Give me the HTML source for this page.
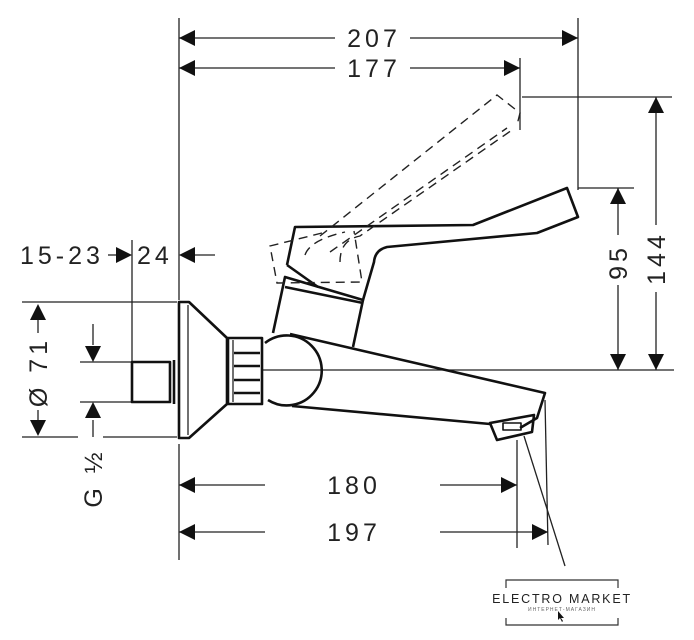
<!DOCTYPE html>
<html><head><meta charset="utf-8"><style>
html,body{margin:0;padding:0;background:#fff}
svg{display:block}
text{font-family:"Liberation Sans",sans-serif;fill:#222}
</style></head><body>
<svg width="694" height="640" viewBox="0 0 694 640" xmlns="http://www.w3.org/2000/svg">
<g stroke="#222" stroke-width="1.3" fill="none">
<line x1="179" y1="18" x2="179" y2="300"/>
<line x1="179" y1="444" x2="179" y2="560"/>
<line x1="578" y1="18" x2="578" y2="190"/>
<line x1="520" y1="58" x2="520" y2="130"/>
<line x1="522" y1="97" x2="672" y2="97"/>
<line x1="578" y1="188" x2="634" y2="188"/>
<line x1="262" y1="370" x2="674" y2="370"/>
<line x1="179" y1="38" x2="335" y2="38"/>
<line x1="410" y1="38" x2="578" y2="38"/>
<line x1="179" y1="68" x2="335" y2="68"/>
<line x1="410" y1="68" x2="520" y2="68"/>
<line x1="656" y1="97" x2="656" y2="225"/>
<line x1="656" y1="292" x2="656" y2="370"/>
<line x1="618" y1="188" x2="618" y2="235"/>
<line x1="618" y1="285" x2="618" y2="370"/>
<line x1="132" y1="240" x2="132" y2="362"/>
<line x1="108" y1="255" x2="118" y2="255"/>
<line x1="195" y1="255" x2="215" y2="255"/>
<line x1="22" y1="302" x2="177" y2="302"/>
<line x1="22" y1="437" x2="78" y2="437"/>
<line x1="103" y1="437" x2="177" y2="437"/>
<line x1="80" y1="362" x2="132" y2="362"/>
<line x1="80" y1="402" x2="132" y2="402"/>
<line x1="93" y1="324" x2="93" y2="345"/>
<line x1="93" y1="420" x2="93" y2="437"/>
<line x1="38" y1="320" x2="38" y2="333"/>
<line x1="38" y1="410" x2="38" y2="420"/>
<line x1="179" y1="485" x2="265" y2="485"/>
<line x1="440" y1="485" x2="517" y2="485"/>
<line x1="179" y1="532" x2="265" y2="532"/>
<line x1="440" y1="532" x2="548" y2="532"/>
<line x1="517" y1="440" x2="517" y2="548"/>
<line x1="524" y1="436" x2="565" y2="566"/>
<line x1="545" y1="400" x2="548" y2="545"/>
</g>
<g fill="#111">
<path d="M179,38l16,-8v16z"/><path d="M578,38l-16,-8v16z"/>
<path d="M179,68l16,-8v16z"/><path d="M520,68l-16,-8v16z"/>
<path d="M656,97l-8,16h16z"/><path d="M656,370l-8,-16h16z"/>
<path d="M618,188l-8,16h16z"/><path d="M618,370l-8,-16h16z"/>
<path d="M132,255l-16,-8v16z"/><path d="M179,255l16,-8v16z"/>
<path d="M38,304l-8,16h16z"/><path d="M38,436l-8,-16h16z"/>
<path d="M93,362l-8,-16h16z"/><path d="M93,402l-8,16h16z"/>
<path d="M179,485l16,-8v16z"/><path d="M517,485l-16,-8v16z"/>
<path d="M179,532l16,-8v16z"/><path d="M548,532l-16,-8v16z"/>
</g>
<g stroke="#111" stroke-width="2.6" fill="none" stroke-linejoin="round">
<rect x="132" y="362" width="38" height="40"/>
<line x1="174" y1="360" x2="174" y2="404"/>
<path d="M179,302h10l38,36v66l-38,34h-10z"/>
<line x1="188" y1="305" x2="188" y2="435" stroke-width="1.2"/>
<rect x="228" y="338" width="34" height="66"/>
<line x1="233" y1="340" x2="233" y2="402" stroke-width="1.2"/>
<line x1="234" y1="353" x2="260" y2="353"/><line x1="234" y1="366" x2="260" y2="366"/>
<line x1="234" y1="380" x2="260" y2="380"/><line x1="234" y1="393" x2="260" y2="393"/>
<path d="M265,343 A35,35 0 1 1 268,400"/>
<path d="M290,334 L545,393 L537,418 L520,428"/>
<path d="M292,406 L490,424"/>
<path d="M490,423 L534,415 L532,432 L497,440z"/>
<rect x="503" y="423" width="18" height="7" stroke-width="1.6"/>
<path d="M273,333 L285,277 L363,300 L353,347"/>
<line x1="285" y1="287" x2="363" y2="303"/>
<path d="M287,265 L295,227 L473,225 L567,188 L578,217 L537,233 L387,247 Q375,250 374,262 L363,300"/>
<path d="M287,265 L318,287"/>
</g>
<g stroke="#222" stroke-width="1.4" fill="none" stroke-dasharray="9,6">
<path d="M322,233 L270,246 L277,283 L362,282 L354,231"/>
<path d="M320,236 L497,95 L520,113 L517,125"/>
<path d="M340,262 Q340,240 360,236 L512,130"/>
<path d="M330,252 L507,128"/>
<path d="M305,255 Q310,240 345,232"/>
</g>
<g font-size="25" letter-spacing="4">
<text x="374" y="47" text-anchor="middle">207</text>
<text x="374" y="77" text-anchor="middle">177</text>
<text x="354" y="494" text-anchor="middle">180</text>
<text x="354" y="541" text-anchor="middle">197</text>
<text x="20" y="264">15-23</text>
<text x="137" y="264">24</text>
<text transform="translate(665,258) rotate(-90)" text-anchor="middle">144</text>
<text transform="translate(627,262) rotate(-90)" text-anchor="middle">95</text>
<text transform="translate(47,372) rotate(-90)" text-anchor="middle">Ø 71</text>
<text transform="translate(102,478) rotate(-90)" text-anchor="middle">G ½</text>
</g>
<g stroke="#333" stroke-width="1.2" fill="none">
<path d="M506,588v-8h112v8"/><path d="M506,618v7h112v-7"/>
</g>
<text x="562" y="603" font-size="12.5" text-anchor="middle" letter-spacing="1.8" style="fill:#222">ELECTRO MARKET</text>
<text x="562" y="611" font-size="5" text-anchor="middle" letter-spacing="1" style="fill:#666">ИНТЕРНЕТ-МАГАЗИН</text>
<path d="M558,611l0,9l2,-2l2,4l1,-1l-2,-3l3,0z" fill="#111"/>
</svg>
</body></html>
